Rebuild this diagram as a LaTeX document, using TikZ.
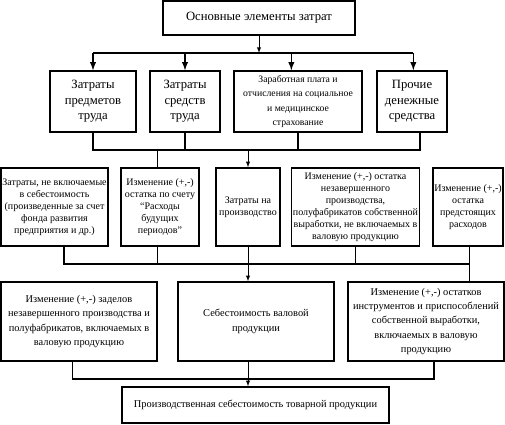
\documentclass[tikz,border=0pt]{standalone}
\usepackage{fontspec}
\setmainfont{Liberation Serif}
\usetikzlibrary{shapes,arrows,positioning,calc}

\begin{document}
\begin{tikzpicture}[x=0.75pt, y=-0.75pt, auto, line width=1.1pt, >=latex,
        block/.style={rectangle, draw, align=center, inner sep=1pt, font=\fontsize{9.5}{11.6}\selectfont},
        smalltext/.style={font=\fontsize{7.5}{9}\selectfont},
        midtext/.style={font=\fontsize{7.8}{10.7}\selectfont},
        thinline/.style={line width=0.5pt}]

        \useasboundingbox (0,0) rectangle (505,424);
        \coordinate (busa) at (0,53);
        \coordinate (busb) at (0,150);
        \coordinate (busc) at (0,264);
        \coordinate (busd) at (0,379);

        \node [block, minimum width=144pt, minimum height=25.5pt] (osn) at (259,18) {Основные элементы затрат};

        \node [block, minimum width=64.5pt, minimum height=45.75pt] (predm) at (93,101.5) {Затраты\\предметов\\труда};
        \node [block, minimum width=52.5pt, minimum height=45.75pt] (sredst) at (185,101.5) {Затраты\\средств\\труда};
        \node [block, minimum width=96pt, minimum height=45.75pt, font=\fontsize{7.3}{10.9}\selectfont] (zarpl) at (298,101.5) {Заработная плата и\\отчисления на социальное\\и медицинское\\страхование};
        \node [block, minimum width=52.5pt, minimum height=45.75pt] (proch) at (412,101.5) {Прочие\\денежные\\средства};

        \node [block, smalltext, minimum width=78.75pt, minimum height=58.5pt] (nevkl) at (54.5,207) {Затраты, не включаемые\\в себестоимость\\(произведенные за счет\\фонда развития\\предприятия и др.)};
        \node [block, smalltext, minimum width=58.5pt, minimum height=58.5pt] (rbp) at (160,207) {Изменение (+,-)\\остатка по счету\\“Расходы\\будущих\\периодов”};
        \node [block, smalltext, minimum width=48pt, minimum height=58.5pt] (zproizv) at (248,207) {Затраты на\\производство};
        \node [block, smalltext, minimum width=95.25pt, minimum height=58.5pt] (nzp) at (355.5,207) {Изменение (+,-) остатка\\незавершенного\\производства,\\полуфабрикатов собственной\\выработки, не включаемых в\\валовую продукцию};
        \node [block, smalltext, minimum width=52.5pt, minimum height=58.5pt] (predst) at (468,207) {Изменение (+,-)\\остатка\\предстоящих\\расходов};

        \node [block, midtext, minimum width=117pt, minimum height=59.25pt] (zadel) at (79,321.5) {Изменение (+,-) заделов\\незавершенного производства и\\полуфабрикатов, включаемых в\\валовую продукцию};
        \node [block, midtext, minimum width=117pt, minimum height=59.25pt] (valov) at (256,321.5) {Себестоимость валовой\\продукции};
        \node [block, midtext, minimum width=117pt, minimum height=59.25pt] (instr) at (426,321.5) {Изменение (+,-) остатков\\инструментов и приспособлений\\собственной выработки,\\включаемых в валовую\\продукцию};

        \node [block, midtext, minimum width=200.25pt, minimum height=27pt] (tovar) at (255.5,405) {Производственная себестоимость товарной продукции};

        \path [draw, ->, thinline] (osn) -- (osn |- busa);
        \path [draw] (predm.north |- busa) -- ([xshift=1pt]proch.north |- busa);
        \path [draw, ->] (predm.north |- busa) -- (predm.north);
        \path [draw, ->] (sredst.north |- busa) -- (sredst.north);
        \path [draw, ->] ([xshift=-5pt]zarpl.north |- busa) -- ([xshift=-5pt]zarpl.north);
        \path [draw, ->] ([xshift=1pt]proch.north |- busa) -- ([xshift=1pt]proch.north);

        \path [draw] (predm.south) -- (predm.south |- busb) -- ([xshift=6pt]proch.south |- busb) -- ([xshift=6pt]proch.south);
        \path [draw] (sredst.south) -- (sredst.south |- busb);
        \path [draw] (zarpl.south) -- (zarpl.south |- busb);
        \path [draw] ([xshift=-2pt]rbp.north |- busb) -- ([xshift=-2pt]rbp.north);
        \path [draw, ->, thinline] (zproizv.north |- busb) -- (zproizv.north);

        \path [draw] ([xshift=7pt]nevkl.south) -- ([xshift=7pt]nevkl.south |- busc) -- ([xshift=1pt]predst.south |- busc) -- ([xshift=1pt]predst.south |- instr.north);
        \path [draw] ([xshift=-2pt]rbp.south) -- ([xshift=-2pt]rbp.south |- busc);
        \path [draw] (nzp.south) -- (nzp.south |- busc);
        \path [draw] ([xshift=1pt]predst.south) -- ([xshift=1pt]predst.south |- busc);
        \path [draw, ->, thinline] (zproizv.south) -- (zproizv.south |- valov.north);

        \path [draw] ([xshift=-5pt]zadel.south) -- ([xshift=-5pt]zadel.south |- busd) -- ([xshift=6pt]instr.south |- busd) -- ([xshift=6pt]instr.south);
        \path [draw, ->, thinline] (valov.south -| zproizv) -- (tovar.north -| zproizv);
    \end{tikzpicture}
\end{document}
